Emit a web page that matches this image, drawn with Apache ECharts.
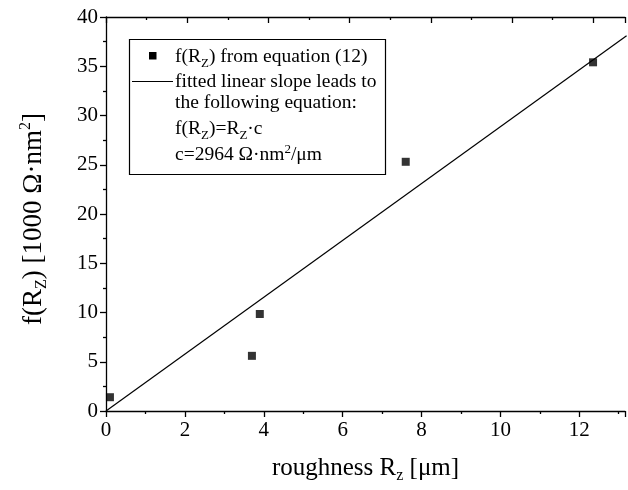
<!DOCTYPE html>
<html>
<head>
<meta charset="utf-8">
<script src="https://cdn.jsdelivr.net/npm/echarts@6/dist/echarts.min.js"></script>
<style>
  html, body { margin: 0; padding: 0; background: #fff; }
  #chart { width: 628px; height: 490px; }
</style>
</head>
<body>
<div id="chart"></div>
<script>
// measured points f(Rz) from equation (12)
const roughness = [0.1, 3.7, 3.9, 7.6, 12.35]
const fRz = [1.4, 5.6, 9.85, 25.3, 35.4]
// fitted linear slope, end points of the drawn line
const fitX = [0, 13.2]
const fitY = [0, 38.1]

const xTicks = [0, 2, 4, 6, 8, 10, 12]
const yTicks = [0, 5, 10, 15, 20, 25, 30, 35, 40]

const serif = '"Liberation Serif", "Times New Roman", serif'
const titleRich = {
  sub: { fontSize: 16, fontFamily: serif, color: '#000', verticalAlign: 'bottom', lineHeight: 32 },
  sup: { fontSize: 16, fontFamily: serif, color: '#000', verticalAlign: 'top', lineHeight: 30 }
}
const legRich = {
  sub: { fontSize: 13, fontFamily: serif, color: '#000', verticalAlign: 'bottom', lineHeight: 26 },
  sup: { fontSize: 13, fontFamily: serif, color: '#000', verticalAlign: 'top', lineHeight: 24 }
}

const chart = echarts.init(document.getElementById('chart'))

const legendText = (y, text) => ({
  type: 'text', x: 175, y, z: 11,
  style: { text, fontSize: 19.5, fontFamily: serif, fill: '#000', rich: legRich, verticalAlign: 'middle' }
})

const axisLine = { show: true, onZero: false, lineStyle: { color: '#000', width: 1.3 } }

const option = {
  backgroundColor: '#fff',
  animation: false,
  grid: { left: 106, right: 0, top: 17, bottom: 79 },
  xAxis: [{
    type: 'value', min: 0, max: 13.16, interval: 2,
    name: 'roughness R{sub|z} [μm]', nameLocation: 'middle', nameGap: 41,
    nameTextStyle: { fontSize: 25, fontFamily: serif, color: '#000', rich: titleRich },
    axisLine,
    axisTick: { show: true, inside: false, length: 6, lineStyle: { color: '#000', width: 1.3 } },
    minorTick: { show: true, splitNumber: 2, length: 3, lineStyle: { color: '#000', width: 1.3 } },
    axisLabel: {
      margin: 9, fontSize: 21, fontFamily: serif, color: '#000',
      formatter: v => xTicks.includes(v) ? String(v) : ''
    },
    splitLine: { show: false }
  }, {
    type: 'value', position: 'top', min: 0, max: 12.78, interval: 2,
    axisLine,
    axisTick: { show: true, inside: true, length: 6, lineStyle: { color: '#000', width: 1.3 } },
    minorTick: { show: true, splitNumber: 2, length: 3, lineStyle: { color: '#000', width: 1.3 } },
    axisLabel: { show: false },
    splitLine: { show: false }
  }],
  yAxis: {
    type: 'value', min: 0, max: 40, interval: 5,
    name: 'f(R{sub|Z}) [1000 Ω·nm{sup|2}]', nameLocation: 'middle', nameGap: 56, nameRotate: 90,
    nameTextStyle: { fontSize: 27, fontFamily: serif, color: '#000', rich: titleRich, padding: [0, 10, 0, 0] },
    axisLine,
    axisTick: { show: true, inside: false, length: 6, lineStyle: { color: '#000', width: 1.3 } },
    minorTick: { show: true, splitNumber: 2, length: 3, lineStyle: { color: '#000', width: 1.3 } },
    axisLabel: {
      margin: 8, fontSize: 21, fontFamily: serif, color: '#000',
      formatter: v => yTicks.includes(v) ? String(v) : ''
    },
    splitLine: { show: false }
  },
  series: [{
    type: 'line', xAxisIndex: 0,
    data: fitX.map((x, i) => [x, fitY[i]]),
    showSymbol: false, symbol: 'none',
    lineStyle: { color: '#000', width: 1.2 },
    z: 2
  }, {
    type: 'scatter', xAxisIndex: 0,
    data: roughness.map((x, i) => [x, fRz[i]]),
    symbol: 'rect', symbolSize: 8,
    itemStyle: { color: '#000' },
    z: 3
  }],
  graphic: [
    { type: 'rect', shape: { x: 129.5, y: 39.5, width: 256, height: 135 },
      style: { fill: '#fff', stroke: '#000', lineWidth: 1.2 }, z: 10 },
    { type: 'rect', shape: { x: 149, y: 52, width: 7.5, height: 7.5 }, style: { fill: '#000' }, z: 11 },
    { type: 'line', shape: { x1: 132, y1: 81.5, x2: 173, y2: 81.5 },
      style: { stroke: '#000', lineWidth: 1.2 }, z: 11 },
    legendText(57, 'f(R{sub|Z}) from equation (12)'),
    legendText(82, 'fitted linear slope leads to'),
    legendText(103, 'the following equation:'),
    legendText(129, 'f(R{sub|Z})=R{sub|Z}·c'),
    legendText(155, 'c=2964 Ω·nm{sup|2}/μm')
  ]
}

chart.setOption(option)
</script>
</body>
</html>
